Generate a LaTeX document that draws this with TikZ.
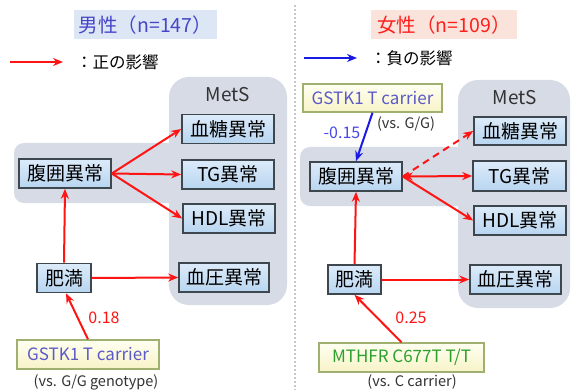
\documentclass[tikz,border=0pt]{standalone}
\usepackage{fontspec}
\setmainfont{Noto Sans CJK JP}
\usetikzlibrary{arrows.meta}
\definecolor{panelgray}{HTML}{D6DBE5}
\definecolor{boxborder}{HTML}{3E464E}
\definecolor{boxtop}{HTML}{DCEBFA}
\definecolor{boxbot}{HTML}{B8D5F0}
\definecolor{genetop}{HTML}{FFFFF2}
\definecolor{genebot}{HTML}{F7F3C6}
\definecolor{geneborder}{HTML}{A0B070}
\definecolor{arrred}{HTML}{FF1414}
\definecolor{arrblue}{HTML}{1A1AE6}
\definecolor{titleblue}{HTML}{4646C8}
\definecolor{titlebluebg}{HTML}{DCE6F4}
\definecolor{titlered}{HTML}{FF1E1E}
\definecolor{titleredbg}{HTML}{FAE3DA}
\definecolor{genetext}{HTML}{5A5AC8}
\definecolor{genegreen}{HTML}{2CA02C}
\definecolor{sepgray}{HTML}{C8C8C8}
\tikzset{
  mbox/.style={draw=boxborder, line width=1.6pt, top color=boxtop, bottom color=boxbot,
    minimum height=29pt, inner sep=0pt, font=\fontsize{19}{22}\selectfont},
  gbox/.style={draw=geneborder, line width=1.4pt, top color=genetop, bottom color=genebot,
    minimum height=29pt, inner sep=0pt, font=\fontsize{17}{20}\selectfont},
  panel/.style={fill=panelgray, draw=none},
  tbox/.style={minimum height=29pt, inner sep=0pt, font=\fontsize{19.5}{23}\selectfont},
  parr/.style={draw=arrred, line width=2pt, -{Stealth[length=10pt,width=8pt]}},
  narr/.style={draw=arrblue, line width=2pt, -{Stealth[length=10pt,width=8pt]}},
  note/.style={inner sep=0pt, font=\fontsize{14.5}{17}\selectfont, text=black!80},
  coef/.style={inner sep=0pt, font=\fontsize{16}{18}\selectfont},
  legend/.style={inner sep=0pt, anchor=west, font=\fontsize{16.5}{19}\selectfont},
  mets/.style={inner sep=0pt, font=\fontsize{19}{22}\selectfont, text=black!80}
}
\begin{document}
\begin{tikzpicture}[x=1pt,y=-1pt]
\useasboundingbox (0,0) rectangle (572,390);
\fill[white] (0,0) rectangle (572,390);

% separator
\draw[sepgray, line width=2pt, dash pattern=on 2pt off 2pt] (295,5) -- (295,390);

% ---------------- LEFT PANEL ----------------
\fill[panel, rounded corners=20pt] (169,77) rectangle (287,305);
\fill[panel, rounded corners=10pt] (14,143) rectangle (180,203);

\node[tbox, fill=titlebluebg, text=titleblue, minimum width=143pt] (tL) at (145.5,25) {男性（n=147）};

\coordinate (lgLa) at (10,62);
\coordinate (lgLb) at (63,62);
\draw[parr] (lgLa) -- (lgLb);
\node[legend] (lgLt) at (76,62) {：正の影響};

\node[mets] (metsL) at (228,95) {MetS};

\node[mbox, minimum width=92pt] (waistL) at (65,173.5) {腹囲異常};
\node[mbox, minimum width=92pt] (gluL) at (228,129) {血糖異常};
\node[mbox, minimum width=92pt] (tgL) at (228,174.5) {TG異常};
\node[mbox, minimum width=92pt] (hdlL) at (229,218.5) {HDL異常};
\node[mbox, minimum width=54pt] (obL) at (64,278) {肥満};
\node[mbox, minimum width=90pt] (bpL) at (224,277.5) {血圧異常};
\node[gbox, minimum width=142pt, text=genetext] (geneL) at (88,354.5) {GSTK1 T carrier};
\node[note] (noteL) at (96,382) {(vs. G/G genotype)};
\node[coef, text=arrred] (cL) at (104,318) {0.18};

\draw[parr] (geneL.north) -- ([xshift=2pt]obL.south);
\draw[parr] (obL.north) -- (waistL.south);
\draw[parr] (obL.east) -- (bpL.west);
\draw[parr] (waistL.east) -- (gluL.west);
\draw[parr] (waistL.east) -- (tgL.west);
\draw[parr] (waistL.east) -- (hdlL.west);

% ---------------- RIGHT PANEL ----------------
\fill[panel, rounded corners=20pt] (458,80) rectangle (570,308);
\fill[panel, rounded corners=10pt] (300,147) rectangle (470,206);

\node[tbox, fill=titleredbg, text=titlered, minimum width=146pt] (tR) at (444,25) {女性（n=109）};

\coordinate (lgRa) at (304,58);
\coordinate (lgRb) at (357,58);
\draw[narr] (lgRa) -- (lgRb);
\node[legend] (lgRt) at (370,58) {：負の影響};

\node[mets] (metsR) at (515,98) {MetS};

\node[gbox, minimum width=139pt, minimum height=28pt, text=genetext] (geneR) at (372.5,98) {GSTK1 T carrier};
\node[note] (noteR1) at (406,124) {(vs. G/G)};
\node[coef, text=arrblue!80!white] (cR1) at (342,133) {-0.15};

\node[mbox, minimum width=92pt] (waistR) at (356,176.5) {腹囲異常};
\node[mbox, minimum width=92pt, minimum height=28pt] (gluR) at (520,131) {血糖異常};
\node[mbox, minimum width=93pt, minimum height=30pt] (tgR) at (519.5,176) {TG異常};
\node[mbox, minimum width=92pt] (hdlR) at (520,220.5) {HDL異常};
\node[mbox, minimum width=53pt] (obR) at (354.5,279.5) {肥満};
\node[mbox, minimum width=91pt] (bpR) at (515.5,279.5) {血圧異常};
\node[gbox, minimum width=165pt, text=genegreen] (mthfr) at (401.5,357.5) {MTHFR C677T T/T};
\node[note] (noteR2) at (412,382) {(vs. C carrier)};
\node[coef, text=arrred] (cR2) at (411,318) {0.25};

\draw[narr] (geneR.south) -- (waistR.north);
\draw[parr] (mthfr.north) -- (obR.south);
\draw[parr] (obR.north) -- (waistR.south);
\draw[parr] (obR.east) -- (bpR.west);
\draw[parr, dash pattern=on 7pt off 5pt] (waistR.east) -- (gluR.west);
\draw[parr, {Stealth[length=10pt,width=8pt]}-{Stealth[length=10pt,width=8pt]}] (waistR.east) -- (tgR.west);
\draw[parr] (waistR.east) -- (hdlR.west);
\end{tikzpicture}
\end{document}
